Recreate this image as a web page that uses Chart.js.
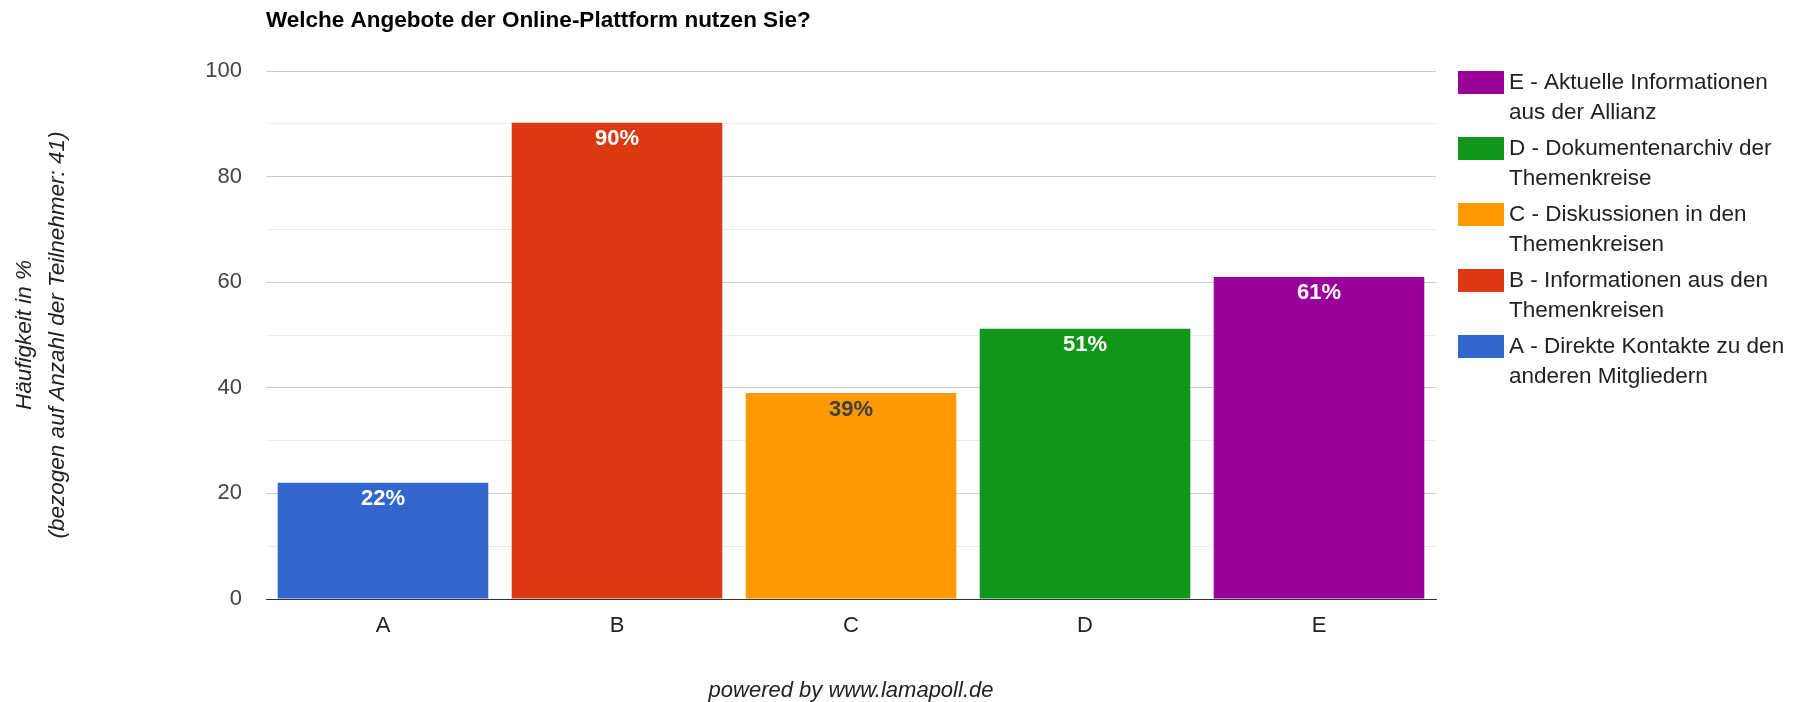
<!DOCTYPE html>
<html>
<head>
<meta charset="utf-8">
<script src="https://cdn.jsdelivr.net/npm/chart.js@4/dist/chart.umd.min.js"></script>
<style>
  html, body { margin: 0; padding: 0; background: #fff; }
  #wrap { width: 1811px; height: 702px; }
</style>
</head>
<body>
<div id="wrap"><canvas id="c" width="1811" height="702"></canvas></div>
<script>
const chartTitle = 'Welche Angebote der Online-Plattform nutzen Sie?';
const categories = ['A', 'B', 'C', 'D', 'E'];
const values = [22, 90.2, 39, 51.2, 61];
const seriesColors = ['#3366CC', '#DC3912', '#FF9900', '#109618', '#990099'];
const labelColors = ['#ffffff', '#ffffff', '#404040', '#ffffff', '#ffffff'];
const seriesNames = [
  ['A - Direkte Kontakte zu den', 'anderen Mitgliedern'],
  ['B - Informationen aus den', 'Themenkreisen'],
  ['C - Diskussionen in den', 'Themenkreisen'],
  ['D - Dokumentenarchiv der', 'Themenkreise'],
  ['E - Aktuelle Informationen', 'aus der Allianz']
];
const yTicks = [0, 20, 40, 60, 80, 100];
const yTitle = ['Häufigkeit in %', '(bezogen auf Anzahl der Teilnehmer: 41)'];
const footer = 'powered by www.lamapoll.de';

const FONT = "'Liberation Sans', Arial, Helvetica, sans-serif";

const datasets = categories.map((cat, i) => ({
  label: seriesNames[i].join(' '),
  data: categories.map((c, j) => (j === i ? values[i] : null)),
  backgroundColor: seriesColors[i],
  borderWidth: 0,
  barPercentage: 0.9,
  categoryPercentage: 1.0
}));

const valueLabels = {
  id: 'valueLabels',
  afterDatasetsDraw(chart) {
    const ctx = chart.ctx;
    ctx.save();
    ctx.font = 'bold 22px ' + FONT;
    ctx.textAlign = 'center';
    ctx.textBaseline = 'middle';
    chart.data.datasets.forEach((ds, i) => {
      const meta = chart.getDatasetMeta(i);
      meta.data.forEach((bar, j) => {
        const v = ds.data[j];
        if (v === null || v === undefined) return;
        ctx.fillStyle = labelColors[i];
        ctx.fillText(Math.round(v) + '%', bar.x, bar.y + 16.5);
      });
    });
    ctx.restore();
  }
};

const sideLegend = {
  id: 'sideLegend',
  afterDraw(chart) {
    const ctx = chart.ctx;
    const area = chart.chartArea;
    const x0 = area.right + 22;
    let y = area.top;
    ctx.save();
    ctx.font = '22.5px ' + FONT;
    ctx.textAlign = 'left';
    ctx.textBaseline = 'middle';
    for (let i = chart.data.datasets.length - 1; i >= 0; i--) {
      ctx.fillStyle = seriesColors[i];
      ctx.fillRect(x0, y, 46, 23);
      ctx.fillStyle = '#222222';
      seriesNames[i].forEach((line, k) => {
        ctx.fillText(line, x0 + 51, y + 11.5 + k * 30);
      });
      y += 66;
    }
    ctx.restore();
  }
};

new Chart(document.getElementById('c'), {
  type: 'bar',
  data: { labels: categories, datasets: datasets },
  options: {
    responsive: false,
    animation: false,
    devicePixelRatio: 1,
    layout: { padding: { left: 0, right: 375, top: 0, bottom: 0 } },
    plugins: {
      legend: { display: false },
      tooltip: { enabled: false },
      title: {
        display: true,
        text: chartTitle,
        align: 'start',
        fullSize: false,
        color: '#000',
        font: { family: FONT, size: 22.5, weight: 'bold', lineHeight: 1.2 },
        padding: { top: 7.5, bottom: 36.5 }
      }
    },
    scales: {
      x: {
        stacked: true,
        grid: { display: false, drawTicks: false },
        border: { display: true, color: '#333333', width: 1 },
        ticks: { color: '#222222', font: { family: FONT, size: 22 }, padding: 14 },
        title: {
          display: true,
          text: footer,
          color: '#222222',
          font: { family: FONT, size: 22, style: 'italic', lineHeight: 1.0 },
          padding: { top: 0, bottom: 0 }
        },
        afterFit(scale) { scale.height = 103; }
      },
      y: {
        stacked: true,
        min: 0,
        max: 100,
        border: { display: false },
        grid: {
          drawTicks: false,
          color(ctx) {
            const v = ctx.tick ? ctx.tick.value : 0;
            if (v === 0) return '#333333';
            return yTicks.includes(v) ? '#cccccc' : '#ebebeb';
          }
        },
        ticks: {
          stepSize: 10,
          color: '#444444',
          font: { family: FONT, size: 22 },
          padding: 24,
          callback(v) { return yTicks.includes(v) ? String(v) : ''; }
        },
        title: {
          display: true,
          text: yTitle,
          color: '#222222',
          font: { family: FONT, size: 22.5, style: 'italic', lineHeight: '33px' },
          padding: { top: 8.5, bottom: 0 }
        },
        afterFit(scale) { scale.width = 266; }
      }
    }
  },
  plugins: [valueLabels, sideLegend]
});
</script>
</body>
</html>
